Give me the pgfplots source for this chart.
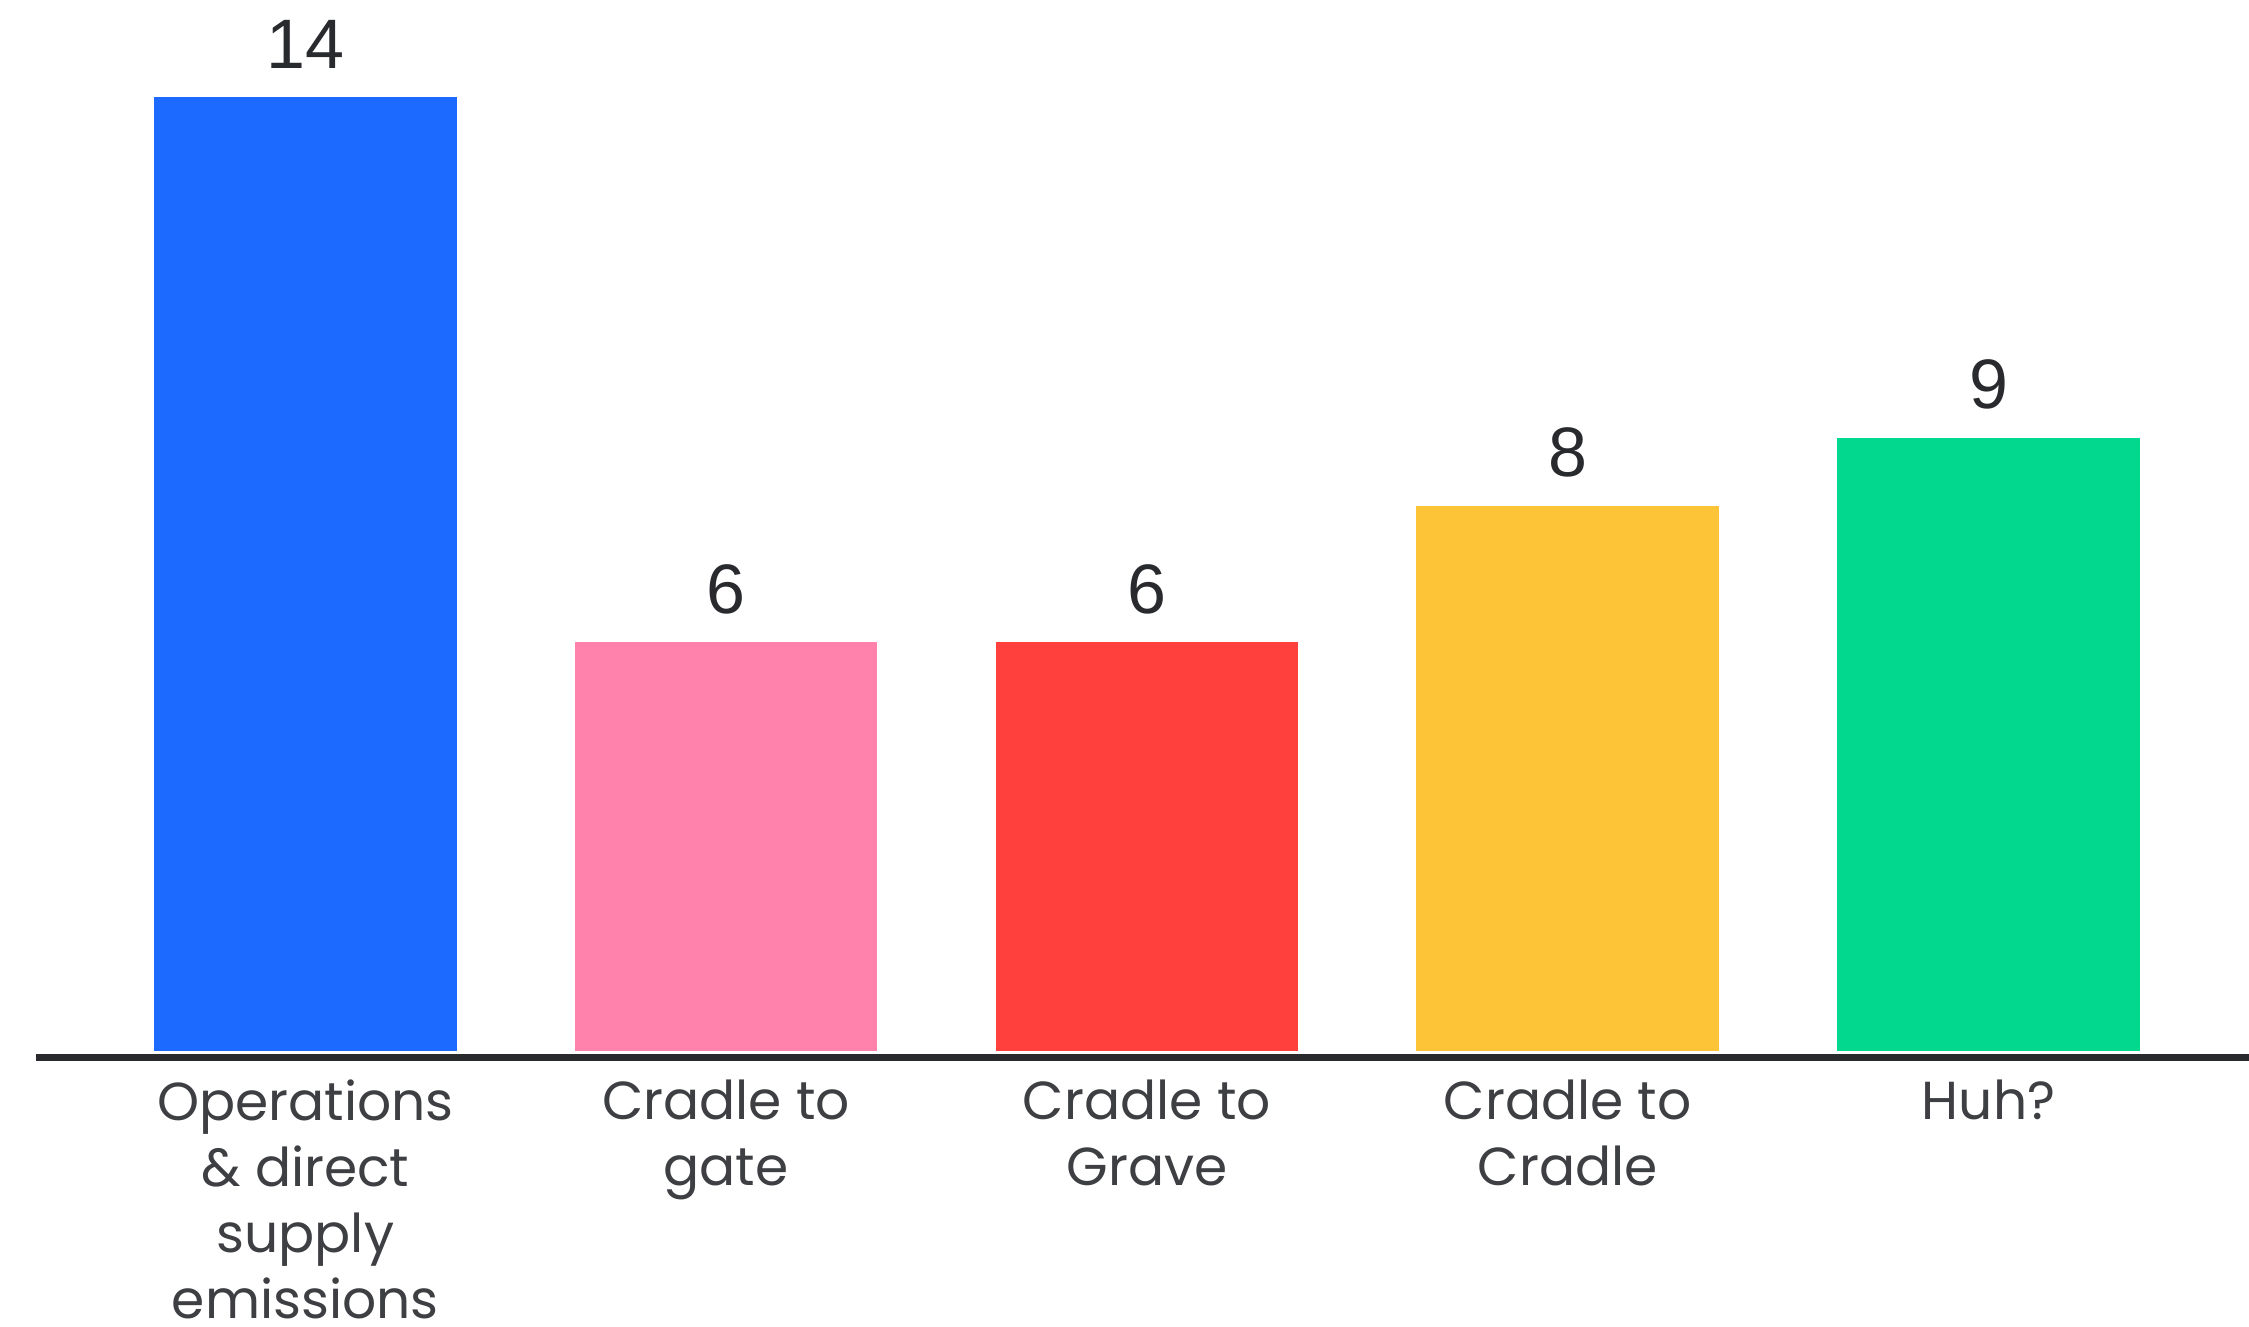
\documentclass[border=0pt]{standalone}
\usepackage{pgfplots}
\pgfplotsset{compat=1.18}
\usepackage{fontspec}
\setmainfont{Poppins}
\newfontfamily\numfont{Liberation Sans}
\definecolor{cblue}{RGB}{28,106,255}
\definecolor{cpink}{RGB}{255,130,172}
\definecolor{cred}{RGB}{255,64,61}
\definecolor{cyellow}{RGB}{254,196,56}
\definecolor{cgreen}{RGB}{2,217,142}
\definecolor{ink}{RGB}{40,42,46}
\begin{document}
\begin{tikzpicture}
\begin{axis}[
    at={(7.2pt,53.8pt)}, anchor=south west,
    scale only axis,
    width=442.6pt, height=211.4pt,
    xmin=-0.640, xmax=4.619,
    ymin=-0.084, ymax=15.43,
    ybar, bar width=60.5pt, bar shift=0pt,
    axis x line=bottom, axis y line=none,
    x axis line style={-, line width=1.4pt, color=ink},
    xtick={0,1,2,3,4},
    xticklabels={Operations\\\& direct\\supply\\emissions, Cradle to\\gate, Cradle to\\Grave, Cradle to\\Cradle, Huh?},
    major tick length=0pt,
    xticklabel style={align=center, text=ink!90, font={\fontsize{10.7}{13.2}\selectfont}, yshift=-1pt},
    /pgf/number format/assume math mode=true,
    nodes near coords,
    nodes near coords style={font={\numfont\fontsize{14}{16}\selectfont}, text=ink, yshift=2.2pt},
    every axis plot/.append style={draw=none},
    clip=false,
]
\addplot[fill=cblue] coordinates {(0,14)};
\addplot[fill=cpink] coordinates {(1,6)};
\addplot[fill=cred] coordinates {(2,6)};
\addplot[fill=cyellow] coordinates {(3,8)};
\addplot[fill=cgreen] coordinates {(4,9)};
\end{axis}
\pgfresetboundingbox
\useasboundingbox (0,0) rectangle (449.8pt,265.2pt);
\end{tikzpicture}
\end{document}
